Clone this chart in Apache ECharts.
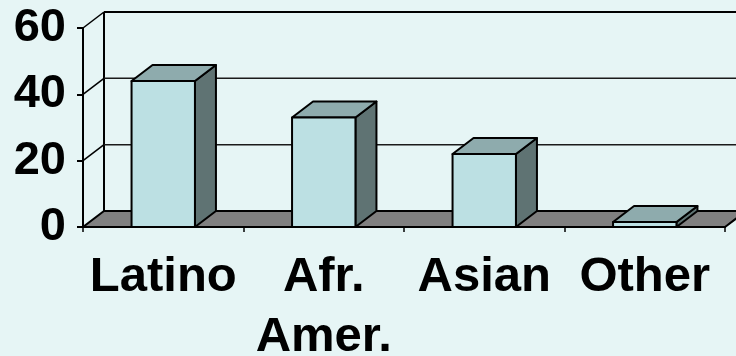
<!DOCTYPE html>
<html>
<head>
<meta charset="utf-8">
<script src="https://cdn.jsdelivr.net/npm/echarts@6/dist/echarts.min.js"></script>
<style>
html,body{margin:0;padding:0;background:#E6F5F5;}
#chart{width:736px;height:356px;}
</style>
</head>
<body>
<div id="chart"></div>
<script>
const categories = ['Latino', 'Afr.\nAmer.', 'Asian', 'Other'];
const values = [44, 33, 22, 1.5];
const yTicks = [0, 20, 40, 60];

const DX = 21, DY = -16;
const FONT = '"Liberation Sans", Arial, sans-serif';

const chart = echarts.init(document.getElementById('chart'));

function wallItem(params, api) {
  const v = api.value(0);
  const cs = params.coordSys;
  const x0 = cs.x, x1 = cs.x + cs.width;
  const y = api.coord([0, v])[1];
  const children = [];
  if (v === 0) {
    const yb = y;
    const yTop = api.coord([0, yTicks[yTicks.length - 1]])[1];
    children.push({
      type: 'line',
      shape: {x1: x0 + DX, y1: yTop + DY, x2: x0 + DX, y2: yb + DY},
      style: {stroke: '#000', lineWidth: 2}
    });
    children.push({
      type: 'polygon',
      shape: {points: [[x0, yb], [x1, yb], [x1 + DX, yb + DY], [x0 + DX, yb + DY]]},
      style: {fill: '#808080', stroke: '#000', lineWidth: 2}
    });
  } else {
    const top = v === yTicks[yTicks.length - 1];
    children.push({
      type: 'line',
      shape: {x1: x0 + DX, y1: y + DY, x2: x1 + DX + 20, y2: y + DY},
      style: {stroke: top ? '#000' : '#1a1a1a', lineWidth: top ? 2 : 1.5}
    });
    children.push({
      type: 'line',
      shape: {x1: x0, y1: y, x2: x0 + DX, y2: y + DY},
      style: {stroke: '#000', lineWidth: 1.5}
    });
  }
  return {type: 'group', children: children};
}

function barItem(params, api) {
  const idx = api.value(0);
  const val = api.value(1);
  const base = api.coord([idx, 0]);
  const topP = api.coord([idx, val]);
  const w = api.size([1, 0])[0] * 0.395;
  const xl = base[0] - w / 2, xr = base[0] + w / 2;
  const yb = base[1], yt = topP[1];
  const st = {stroke: '#000', lineWidth: 2, lineJoin: 'round'};
  return {
    type: 'group',
    children: [
      {type: 'polygon', shape: {points: [[xr, yb], [xr + DX, yb + DY], [xr + DX, yt + DY], [xr, yt]]},
        style: Object.assign({fill: '#5F7373'}, st)},
      {type: 'polygon', shape: {points: [[xl, yt], [xr, yt], [xr + DX, yt + DY], [xl + DX, yt + DY]]},
        style: Object.assign({fill: '#8EABAD'}, st)},
      {type: 'rect', shape: {x: xl, y: yt, width: w, height: yb - yt},
        style: Object.assign({fill: '#BCE0E3'}, st)}
    ]
  };
}

chart.setOption({
  backgroundColor: '#E6F5F5',
  animation: false,
  grid: {left: 83, top: 28, right: 11, bottom: 129, containLabel: false, outerBoundsMode: 'none'},
  xAxis: {
    type: 'category',
    data: categories,
    boundaryGap: true,
    axisLine: {show: true, lineStyle: {color: '#000', width: 2}},
    axisTick: {show: true, length: 5, lineStyle: {color: '#000', width: 1.5}},
    axisLabel: {color: '#000', fontFamily: FONT, fontWeight: 'bold', fontSize: 49, lineHeight: 60, margin: 20, interval: 0, hideOverlap: false}
  },
  yAxis: {
    type: 'value',
    min: 0, max: 60, interval: 20,
    axisLine: {show: true, lineStyle: {color: '#000', width: 2}},
    axisTick: {show: true, length: 6, lineStyle: {color: '#000', width: 2}},
    splitLine: {show: false},
    axisLabel: {color: '#000', fontFamily: FONT, fontWeight: 'bold', fontSize: 47, margin: 17}
  },
  series: [
    {type: 'custom', z: 1, renderItem: wallItem, data: yTicks.map(v => [v]), encode: {y: 0}, clip: false, silent: true},
    {type: 'custom', z: 3, renderItem: barItem, data: values.map((v, i) => [i, v]), encode: {x: 0, y: 1}, clip: false}
  ]
});
</script>
</body>
</html>
